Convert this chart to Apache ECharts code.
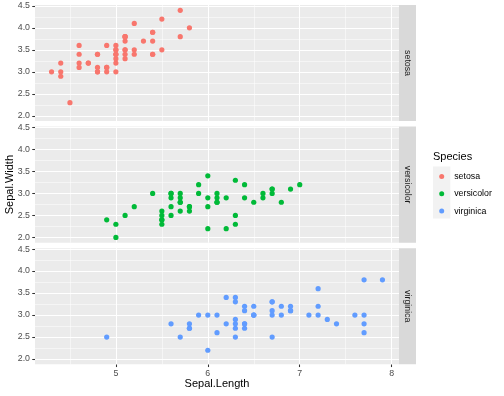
<!DOCTYPE html>
<html><head><meta charset="utf-8">
<script src="https://cdn.jsdelivr.net/npm/echarts@6/dist/echarts.min.js"></script>
<style>html,body{margin:0;padding:0;background:#fff}#c{width:504px;height:396px}</style>
</head><body><div id="c"></div>
<script>
const species = ['setosa', 'versicolor', 'virginica'];
const colors = ['#F8766D', '#00BA38', '#619CFF'];
const setosaLength = [5.1,4.9,4.7,4.6,5.0,5.4,4.6,5.0,4.4,4.9,5.4,4.8,4.8,4.3,5.8,5.7,5.4,5.1,5.7,5.1,5.4,5.1,4.6,5.1,4.8,5.0,5.0,5.2,5.2,4.7,4.8,5.4,5.2,5.5,4.9,5.0,5.5,4.9,4.4,5.1,5.0,4.5,4.4,5.0,5.1,4.8,5.1,4.6,5.3,5.0];
const setosaWidth  = [3.5,3.0,3.2,3.1,3.6,3.9,3.4,3.4,2.9,3.1,3.7,3.4,3.0,3.0,4.0,4.4,3.9,3.5,3.8,3.8,3.4,3.7,3.6,3.3,3.4,3.0,3.4,3.5,3.4,3.2,3.1,3.4,4.1,4.2,3.1,3.2,3.5,3.6,3.0,3.4,3.5,2.3,3.2,3.5,3.8,3.0,3.8,3.2,3.7,3.3];
const versicolorLength = [7.0,6.4,6.9,5.5,6.5,5.7,6.3,4.9,6.6,5.2,5.0,5.9,6.0,6.1,5.6,6.7,5.6,5.8,6.2,5.6,5.9,6.1,6.3,6.1,6.4,6.6,6.8,6.7,6.0,5.7,5.5,5.5,5.8,6.0,5.4,6.0,6.7,6.3,5.6,5.5,5.5,6.1,5.8,5.0,5.6,5.7,5.7,6.2,5.1,5.7];
const versicolorWidth  = [3.2,3.2,3.1,2.3,2.8,2.8,3.3,2.4,2.9,2.7,2.0,3.0,2.2,2.9,2.9,3.1,3.0,2.7,2.2,2.5,3.2,2.8,2.5,2.8,2.9,3.0,2.8,3.0,2.9,2.6,2.4,2.4,2.7,2.7,3.0,3.4,3.1,2.3,3.0,2.5,2.6,3.0,2.6,2.3,2.7,3.0,2.9,2.9,2.5,2.8];
const virginicaLength = [6.3,5.8,7.1,6.3,6.5,7.6,4.9,7.3,6.7,7.2,6.5,6.4,6.8,5.7,5.8,6.4,6.5,7.7,7.7,6.0,6.9,5.6,7.7,6.3,6.7,7.2,6.2,6.1,6.4,7.2,7.4,7.9,6.4,6.3,6.1,7.7,6.3,6.4,6.0,6.9,6.7,6.9,5.8,6.8,6.7,6.7,6.3,6.5,6.2,5.9];
const virginicaWidth  = [3.3,2.7,3.0,2.9,3.0,3.0,2.5,2.9,2.5,3.6,3.2,2.7,3.0,2.5,2.8,3.2,3.0,3.8,2.6,2.2,3.2,2.8,2.8,2.7,3.3,3.2,2.8,3.0,2.8,3.0,2.8,3.8,2.8,2.8,2.6,3.0,3.4,3.1,3.0,3.1,3.1,3.1,2.7,3.2,3.3,3.0,2.5,3.0,3.4,3.0];
const xTicks = [5, 6, 7, 8];
const xMinor = [4.5, 5.5, 6.5, 7.5];
const yTicks = [2.0, 2.5, 3.0, 3.5, 4.0, 4.5];
const yMinor = [2.25, 2.75, 3.25, 3.75, 4.25];
const xRange = [4.12, 8.08];
const yRange = [1.88, 4.52];

const lengths = [setosaLength, versicolorLength, virginicaLength];
const widths = [setosaWidth, versicolorWidth, virginicaWidth];

const FONT = 'Liberation Sans, Arial, sans-serif';
const tops = [5, 126.6, 248.2];
const H = 116.1;
const L = 35, R = 399;

const grids = [], xAxes = [], yAxes = [], series = [], graphics = [];
for (let i = 0; i < 3; i++) {
  grids.push({left: L, width: R - L, top: tops[i], height: H, show: true,
    backgroundColor: '#EBEBEB', borderWidth: 0, containLabel: false});
  const last = i === 2;
  xAxes.push({type: 'value', gridIndex: i, min: xRange[0], max: xRange[1],
    splitLine: {show: false}, axisLine: {show: false},
    axisTick: {show: last, length: 2.75, lineStyle: {color: '#333333', width: 1.07}, customValues: xTicks},
    axisLabel: {show: last, customValues: xTicks, color: '#4D4D4D', fontSize: 8.8, fontFamily: FONT, margin: 5}});
  yAxes.push({type: 'value', gridIndex: i, min: yRange[0], max: yRange[1],
    splitLine: {show: false}, axisLine: {show: false},
    axisTick: {show: true, length: 2.75, lineStyle: {color: '#333333', width: 1.07}, customValues: yTicks},
    axisLabel: {show: true, customValues: yTicks, color: '#4D4D4D', fontSize: 8.8, fontFamily: FONT, margin: 5,
      formatter: v => Number(v).toFixed(1)}});
  const ml = [];
  xMinor.forEach(v => ml.push({xAxis: v, lineStyle: {width: 0.53}}));
  yMinor.forEach(v => ml.push({yAxis: v, lineStyle: {width: 0.53}}));
  xTicks.forEach(v => ml.push({xAxis: v, lineStyle: {width: 1.07}}));
  yTicks.forEach(v => ml.push({yAxis: v, lineStyle: {width: 1.07}}));
  series.push({type: 'scatter', name: species[i], xAxisIndex: i, yAxisIndex: i, z: 10,
    symbolSize: 5.2, itemStyle: {color: colors[i], opacity: 1},
    data: lengths[i].map((x, k) => [x, widths[i][k]]),
    markLine: {silent: true, z: 3, symbol: ['none', 'none'], label: {show: false},
      lineStyle: {color: '#FFFFFF', type: 'solid'}, emphasis: {disabled: true}, animation: false, data: ml}});
  graphics.push({type: 'rect', shape: {x: R, y: tops[i], width: 17, height: H}, style: {fill: '#D9D9D9'}});
  graphics.push({type: 'text', x: R + 8.5, y: tops[i] + H / 2, rotation: -Math.PI / 2,
    style: {text: species[i], fill: '#1A1A1A', fontSize: 8.8, fontFamily: FONT, align: 'center', verticalAlign: 'middle'}});
}
graphics.push({type: 'text', x: (L + R) / 2, y: 384, style: {text: 'Sepal.Length', fill: '#000', fontSize: 11, fontFamily: FONT, align: 'center', verticalAlign: 'middle'}});
graphics.push({type: 'text', x: 10, y: (tops[0] + tops[2] + H) / 2, rotation: Math.PI / 2,
  style: {text: 'Sepal.Width', fill: '#000', fontSize: 11, fontFamily: FONT, align: 'center', verticalAlign: 'middle'}});
graphics.push({type: 'text', x: 433, y: 157, style: {text: 'Species', fill: '#000', fontSize: 11, fontFamily: FONT, align: 'left', verticalAlign: 'middle'}});
graphics.push({type: 'rect', z: -1, shape: {x: 433, y: 166.5, width: 17.3, height: 52}, style: {fill: '#F2F2F2'}});

const chart = echarts.init(document.getElementById('c'), null, {renderer: 'canvas'});
chart.setOption({
  animation: false,
  grid: grids, xAxis: xAxes, yAxis: yAxes, series: series,
  legend: {orient: 'vertical', left: 439.2, top: 166.5, itemWidth: 5, itemHeight: 5, itemGap: 8.3,
    icon: 'circle', data: species, selectedMode: false,
    textStyle: {fontSize: 8.8, fontFamily: FONT, color: '#000', padding: [0, 0, 0, 5]},
    padding: [5.5, 0, 0, 0]},
  graphic: graphics
});
</script></body></html>
